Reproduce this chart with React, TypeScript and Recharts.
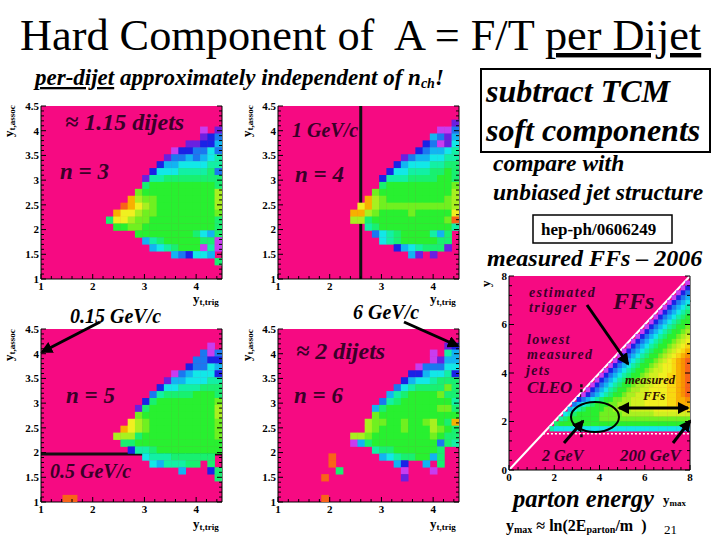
import React from 'react';
import { ScatterChart, Scatter, XAxis, YAxis, CartesianGrid, ReferenceLine } from 'recharts';

// colour levels of the rainbow z scale, '.' = empty bin (pink frame colour)
const PINK = '#f60a82';
const LEVELS: Record<string, string> = {
  p: '#c83cf0', v: '#6a20e0', b: '#1a22e6', m: '#1a78f0', s: '#12b4f2', c: '#12e8e8', t: '#12f0a4',
  g: '#18f070', G: '#28f030', l: '#70f020', h: '#a8f020', H: '#d0f020', y: '#f0f020', Y: '#f8d810',
  o: '#f8b000', O: '#f89000', r: '#f86418',
};

// rows run top to bottom, each string is right aligned on the last bin
const N3_ROWS = ['', '', '', 'p.v', 'vbm', 'vvbbs', 'pbbmmcm', 'vmmsmsct', 'bsscccctt', 'bcccttttgm', 'vttgggggggg', 'gGGGGGGGGGg', 'lGGGGGGGGGGh', 'ohllGGGGGGGGh', 'royhlGGGGGGGGh', 'oyyhllGGGGGGGGl', 'gyyhllGGGGGGGGGg', 'GGllGGGGGGGGGGg', 'GGGGGGGGgcsg', 'stgGGGGGggp', 'sctgGGGptp', 'smbccs.', 'g', '', ''];
const N4_ROWS = ['', '', 'v', 'ppm', 'smvs', 'bmpvc', 'bmssct', 'vmsscctt', 'bscccttgg', 'bcctttggGg', 'btttggggGGg', 'gGGGGGGGGGl', 'lGGGGGGGGGGh', 'ohlGGGGGGGGlh', 'yohllllllllllh', 'oohlGGGGlGGGGGy', 'hhgGGGGGGGGGGlr', 'tgGGGGGGGGGGt', 'mctgGGGGtsg.', 'ctgGGGGGgg.', 'bsctgggv.', 'sv.v...', '', '', ''];
const N5_ROWS = ['', '', 'p.', 'mpm', 'mmbb', 'bmmcs', 'pmscccb', 'vssccctt', 'bcctttggg', 'mtggggGGGg', 'bgGGGGGGGGl', 'vgGGGGGGGGGh', 'lGGGGGGGGGGh', 'yhlGGGGGGGGGl', 'oyhlGGGGGGGGGl', 'hhhgGGGGGGGGGGl', 'ggGGGGGGGGGGGG', 'bttgGGGGGGGGG', 'ctttgggggg.', 'cstttgg.g.', 's...bg', 'g', '', '', 'rr....................'];
const N6_ROWS = ['', '', 'vb', 'p.ts', 'pvss', 'pmmmcc', 'bbscctb', 'bscctggg', 'mctgggglg', 'stgGGGGlgg', 'mtgGGGGGGGt', 'sgGGGGGGGllg', 'lGGGGGGGGGGG', 'hllGGlGGlhGgo', 'hlGGGlGGGhlGg', 'hhlGGGGGGGGlGgg', 'psgGGGGGGGGGmgt', 'tggGGGGGGg..', 'r......sctggGGsg..', 'r........sb..s.g..', 'g........p...p...', 'r..........v.......', '', '', 'r..................'];

// measured FFs, y bins 7.6-7.8 down to 1.6-1.8
const FF_ROWS = [
  'p', 'pb', 'pbm', 'pbms', 'pbmsc', 'pbmsct', 'pbmsctg', 'pbmsctgG', 'pbmsctgGG', 'pbmsctgGGl',
  'pbmsctgGGlh', 'pbmsctgGGlhH', 'pbmsctgGGlhHy', 'pbmsctgGGlhHyY', 'pbmsctgGGlhHyYo', 'pbmsctgGGlhHyYoO',
  'pbmsctgGGlhHyYoOr', 'pbmsctgGGlhHyyYoOr', 'pbmsctgGGlhHHyyYoOr', 'pbmsctgGGlhHHyyYYoOr', 'pbmsctgGGlhhHHyyYYoOr',
  'pbmsctgGGlhhHHyyyYYoOr', 'pbmsctgGGlhhHHyyyyYYoOr', 'pbmsctgGGlhhHHHyyyyYYoOr', 'bmsctgGGllhhHHHyyyyyYYooO',
  'msctgGGGllhhhHHHyyyyyYYooo', 'sctgGGGGllhhhhHHHHHyyyyyyYY', 'ctgGGGGGlllllhhhhhhhHHHHHHHH',
  'tgGGGGGGGllllllllllllllllllll', 'gGGGGGGGGGGGGGGGGGGGGGGGGGGGGG', 'tccccccccccccccccccccccccccccss',
];

const PANEL_X_TICKS = [1, 1.2, 1.4, 1.6, 1.8, 2, 2.2, 2.4, 2.6, 2.8, 3, 3.2, 3.4, 3.6, 3.8, 4, 4.2, 4.4];
const PANEL_X_MAJOR = [1, 2, 3, 4];
const PANEL_Y_TICKS = [1, 1.1, 1.2, 1.3, 1.4, 1.5, 1.6, 1.7, 1.8, 1.9, 2, 2.1, 2.2, 2.3, 2.4, 2.5, 2.6, 2.7, 2.8, 2.9, 3, 3.1, 3.2, 3.3, 3.4, 3.5, 3.6, 3.7, 3.8, 3.9, 4, 4.1, 4.2, 4.3, 4.4, 4.5];
const PANEL_Y_MAJOR = [1, 1.5, 2, 2.5, 3, 3.5, 4, 4.5];
const FF_TICKS = [0, 0.4, 0.8, 1.2, 1.6, 2, 2.4, 2.8, 3.2, 3.6, 4, 4.4, 4.8, 5.2, 5.6, 6, 6.4, 6.8, 7.2, 7.6, 8];
const FF_X_MAJOR = [0, 2, 4, 6, 8];
const FF_Y_MAJOR = [0, 1, 2, 3, 4, 5, 6, 7, 8];

const SERIF = '"Liberation Serif", serif';
const DARK = '#3a0028';

type Cell = { x: number; y: number; fill: string };

const buildCells = (rows: string[], bins: number, x0: number, x1: number, y0: number, y1: number, topOffset = 0) => {
  const cells: Cell[] = [];
  const bw = (x1 - x0) / bins;
  const bh = (y1 - y0) / bins;
  rows.forEach((row, r) => {
    const start = bins - row.length;
    row.split('').forEach((ch, i) => {
      if (ch === '.') return;
      cells.push({ x: x0 + (start + i + 0.5) * bw, y: y1 - (r + topOffset + 0.5) * bh, fill: LEVELS[ch] });
    });
  });
  return cells;
};

const makeTick = (axis: 'x' | 'y' | 'r', major: number[], fontSize: number, big: number, small: number) => (props: any) => {
  const { x, y, payload } = props;
  const isMajor = major.includes(payload.value);
  const len = isMajor ? big : small;
  if (axis === 'x') {
    return (
      <g>
        <line x1={x} x2={x} y1={y} y2={y - len} stroke="#000" />
        {isMajor && <text x={x} y={y + fontSize} textAnchor="middle" fontSize={fontSize} fontWeight="bold" fontFamily={SERIF}>{payload.value}</text>}
      </g>
    );
  }
  if (axis === 'r') return <line x1={x} x2={x - len} y1={y} y2={y} stroke="#000" />;
  return (
    <g>
      <line x1={x} x2={x + len} y1={y} y2={y} stroke="#000" />
      {isMajor && <text x={x - 2} y={y + fontSize * 0.35} textAnchor="end" fontSize={fontSize} fontWeight="bold" fontFamily={SERIF}>{payload.value}</text>}
    </g>
  );
};

interface HeatProps {
  left: number;
  top: number;
  plotW: number;
  plotH: number;
  cells: Cell[];
  bins: number;
  domain: [number, number];
  xTicks: number[];
  yTicks: number[];
  xMajor: number[];
  yMajor: number[];
  children?: React.ReactNode;
}

const Y_W = 26;
const X_H = 18;
const PAD = 6;

const Heat: React.FC<HeatProps> = ({ left, top, plotW, plotH, cells, bins, domain, xTicks, yTicks, xMajor, yMajor, children }) => {
  const w = plotW / bins + 0.4;
  const h = plotH / bins + 0.4;
  return (
    <div style={{ position: 'absolute', left: left - Y_W, top: top - PAD }}>
      <ScatterChart width={Y_W + plotW + 1 + PAD} height={PAD + plotH + X_H} margin={{ top: PAD, right: PAD, left: 0, bottom: 0 }}>
        <CartesianGrid fill={PINK} fillOpacity={1} horizontal={false} vertical={false} stroke="none" />
        <XAxis type="number" dataKey="x" domain={domain} ticks={xTicks} interval={0} height={X_H} tickSize={0} tickMargin={0} allowDataOverflow stroke="#000" tick={makeTick('x', xMajor, 11, 5, 3)} />
        <YAxis type="number" dataKey="y" domain={domain} ticks={yTicks} interval={0} width={Y_W} tickSize={0} tickMargin={0} allowDataOverflow stroke="#000" tick={makeTick('y', yMajor, 11, 5, 3)} />
        <YAxis yAxisId="right" orientation="right" type="number" domain={domain} ticks={yTicks} interval={0} width={1} tickSize={0} tickMargin={0} allowDataOverflow stroke="#000" tick={makeTick('r', yMajor, 11, 5, 3)} />
        <Scatter
          data={cells}
          isAnimationActive={false}
          shape={(p: any) => <rect x={p.cx - w / 2} y={p.cy - h / 2} width={w} height={h} fill={p.payload.fill} />}
        />
        {children}
      </ScatterChart>
    </div>
  );
};

const Label: React.FC<{ x: number; y: number; size: number; color?: string; italic?: boolean; bold?: boolean; spacing?: number; children: React.ReactNode }> = ({ x, y, size, color = '#000', italic = true, bold = true, spacing, children }) => (
  <text x={x} y={y} fontSize={size} fill={color} fontStyle={italic ? 'italic' : 'normal'} fontWeight={bold ? 'bold' : 'normal'} fontFamily={SERIF} letterSpacing={spacing} style={{ whiteSpace: 'pre' }}>
    {children}
  </text>
);

const AxisY: React.FC<{ x: number; y: number }> = ({ x, y }) => (
  <text transform={`translate(${x},${y}) rotate(-90)`} fontSize={13} fontWeight="bold" fontFamily={SERIF}>
    y<tspan fontSize={9} dy={2}>t,assoc</tspan>
  </text>
);
const AxisX: React.FC<{ x: number; y: number }> = ({ x, y }) => (
  <text x={x} y={y} fontSize={13} fontWeight="bold" fontFamily={SERIF}>
    y<tspan fontSize={9} dy={2}>t,trig</tspan>
  </text>
);

const Arrow: React.FC<{ x1: number; y1: number; x2: number; y2: number; both?: boolean }> = ({ x1, y1, x2, y2, both }) => (
  <line x1={x1} y1={y1} x2={x2} y2={y2} stroke="#000" strokeWidth={3} markerEnd="url(#head)" markerStart={both ? 'url(#headStart)' : undefined} />
);

const PANEL_W = 181;
const PANEL_H = 173;

export default function App() {
  const panel = (left: number, top: number, rows: string[], extra?: React.ReactNode) => (
    <Heat left={left} top={top} plotW={PANEL_W} plotH={PANEL_H} cells={buildCells(rows, 25, 1, 4.5, 1, 4.5)} bins={25} domain={[1, 4.5]} xTicks={PANEL_X_TICKS} yTicks={PANEL_Y_TICKS} xMajor={PANEL_X_MAJOR} yMajor={PANEL_Y_MAJOR}>
      {extra}
    </Heat>
  );

  return (
    <div style={{ position: 'absolute', left: 0, top: 0, width: 720, height: 540, background: '#fff', overflow: 'hidden' }}>
      {panel(41, 106, N3_ROWS)}
      {panel(278, 106, N4_ROWS, <ReferenceLine x={2.6} stroke="#111" strokeWidth={3} />)}
      {panel(41, 329, N5_ROWS, <ReferenceLine y={1.97} stroke="#111" strokeWidth={3} />)}
      {panel(278, 329, N6_ROWS)}
      <Heat left={509} top={276} plotW={181} plotH={194} cells={buildCells(FF_ROWS, 40, 0, 8, 0, 8, 1)} bins={40} domain={[0, 8]} xTicks={FF_TICKS} yTicks={FF_TICKS} xMajor={FF_X_MAJOR} yMajor={FF_Y_MAJOR}>
        <ReferenceLine segment={[{ x: 0, y: 0 }, { x: 8, y: 8 }]} stroke="#fff" strokeWidth={2} />
        <ReferenceLine segment={[{ x: 1.5, y: 1.5 }, { x: 8, y: 1.5 }]} stroke="#fff" strokeWidth={1.5} strokeDasharray="2 2" />
        <ReferenceLine segment={[{ x: 3.2, y: 2.3 }, { x: 8, y: 7 }]} stroke="#063" strokeWidth={2.5} strokeDasharray="3 2" />
        <ReferenceLine segment={[{ x: 3.2, y: 1.35 }, { x: 3.2, y: 3.6 }]} stroke="#111" strokeWidth={2.5} strokeDasharray="3 2" />
        <ReferenceLine segment={[{ x: 4.6, y: 1.6 }, { x: 4.6, y: 4.4 }]} stroke="#063" strokeWidth={1} strokeDasharray="1 2" />
      </Heat>

      <svg width={720} height={540} style={{ position: 'absolute', left: 0, top: 0, pointerEvents: 'none' }}>
        <defs>
          <marker id="head" markerWidth="4" markerHeight="4" refX="3.4" refY="2" orient="auto">
            <path d="M0,0 L4,2 L0,4 z" fill="#000" />
          </marker>
          <marker id="headStart" markerWidth="4" markerHeight="4" refX="0.6" refY="2" orient="auto">
            <path d="M4,0 L0,2 L4,4 z" fill="#000" />
          </marker>
        </defs>

        <Label x={20} y={50} size={44.3} italic={false} bold={false}>Hard Component of  A = F/T <tspan textDecoration="underline">per Dijet</tspan></Label>
        <Label x={35} y={85} size={23}><tspan textDecoration="underline">per-dijet</tspan> approximately independent of n<tspan fontSize={14} dy={3}>ch</tspan><tspan dy={-3}>!</tspan></Label>

        <rect x={481} y={69} width={229} height={83} fill="#fff" stroke="#000" strokeWidth={2} />
        <Label x={486} y={102} size={32}>subtract TCM</Label>
        <Label x={486} y={141} size={32}>soft components</Label>
        <Label x={493} y={171} size={23.5}>compare with</Label>
        <Label x={493} y={200} size={23.5}>unbiased jet structure</Label>
        <rect x={533} y={215} width={139} height={28} fill="#fff" stroke="#000" strokeWidth={1.5} />
        <Label x={541} y={235} size={17} italic={false}>hep-ph/0606249</Label>
        <Label x={487} y={266} size={24}>measured FFs – 2006</Label>

        <AxisY x={13} y={137} />
        <AxisY x={251} y={137} />
        <AxisY x={13} y={361} />
        <AxisY x={251} y={361} />
        <AxisX x={193} y={303} />
        <AxisX x={430} y={303} />
        <AxisX x={193} y={528} />
        <AxisX x={430} y={528} />

        <Label x={65} y={130} size={24} color={DARK}>≈ 1.15 dijets</Label>
        <Label x={60} y={179} size={23} color={DARK}>n = 3</Label>
        <Label x={292} y={137} size={20} color={DARK}>1 GeV/c</Label>
        <Label x={295} y={182} size={23} color={DARK}>n = 4</Label>
        <Label x={70} y={323} size={20}>0.15 GeV/c</Label>
        <Label x={353} y={319} size={20}>6 GeV/c</Label>
        <Label x={296} y={359} size={24} color={DARK}>≈ 2 dijets</Label>
        <Label x={66} y={403} size={23} color={DARK}>n = 5</Label>
        <Label x={294} y={403} size={23} color={DARK}>n = 6</Label>
        <Label x={50} y={478} size={20} color={DARK}>0.5 GeV/c</Label>

        <Arrow x1={100} y1={322} x2={42} y2={352} />
        <Arrow x1={404} y1={322} x2={458} y2={346} />

        <text transform="translate(490,287) rotate(-90)" fontSize={13} fontWeight="bold" fontFamily={SERIF}>y</text>
        <Label x={529} y={297} size={14} spacing={1.4} color={DARK}>estimated</Label>
        <Label x={529} y={312} size={14} spacing={1.4} color={DARK}>trigger</Label>
        <Label x={613} y={309} size={24} color={DARK}>FFs</Label>
        <Label x={527} y={344} size={14} spacing={1.3} color={DARK}>lowest</Label>
        <Label x={527} y={359} size={14} spacing={1.3} color={DARK}>measured</Label>
        <Label x={526} y={375} size={14} spacing={1.3} color={DARK}>jets</Label>
        <Label x={527} y={393} size={17} color={DARK}>CLEO</Label>
        <Label x={625} y={384} size={12.5} color="#301000">measured</Label>
        <Label x={643} y={400} size={13} color="#301000">FFs</Label>
        <Label x={542} y={461} size={16} color={DARK}>2 GeV</Label>
        <Label x={620} y={461} size={17} color={DARK}>200 GeV</Label>

        <Arrow x1={587} y1={305} x2={628} y2={364} />
        <Arrow x1={619} y1={408} x2={688} y2={408} both />
        <Arrow x1={564} y1={443} x2={583} y2={421} />
        <Arrow x1={673} y1={443} x2={690} y2={421} />
        <ellipse cx={595} cy={417} rx={24} ry={15} fill="none" stroke="#000" strokeWidth={2} />

        <Label x={513} y={507} size={24.5}>parton energy</Label>
        <Label x={663} y={504} size={13} italic={false}>y<tspan fontSize={9} dy={2}>max</tspan></Label>
        <Label x={506} y={531} size={16} italic={false}>y<tspan fontSize={10} dy={2}>max</tspan><tspan dy={-2}> ≈ ln(2E</tspan><tspan fontSize={10} dy={2}>parton</tspan><tspan dy={-2}>/m  )</tspan></Label>
        <Label x={664} y={534} size={13} italic={false} bold={false}>21</Label>
      </svg>
    </div>
  );
}
